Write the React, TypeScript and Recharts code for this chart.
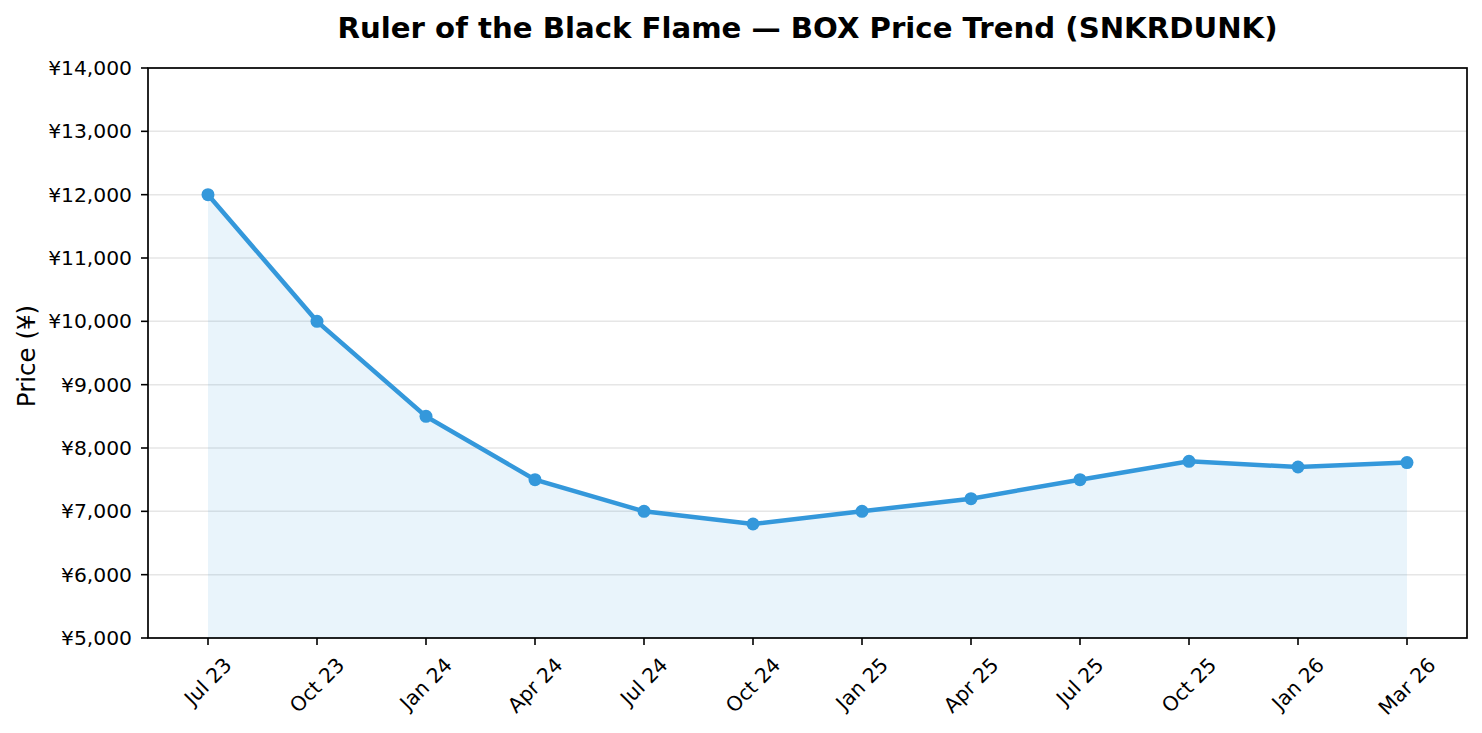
import React from "react"
import { Area, CartesianGrid, ComposedChart, Line, XAxis, YAxis } from "recharts"

const months = ["Jul 23", "Oct 23", "Jan 24", "Apr 24", "Jul 24", "Oct 24", "Jan 25", "Apr 25", "Jul 25", "Oct 25", "Jan 26", "Mar 26"]
const prices = [12000, 10000, 8500, 7500, 7000, 6800, 7000, 7200, 7500, 7790, 7700, 7770]
const yTicks = [5000, 6000, 7000, 8000, 9000, 10000, 11000, 12000, 13000, 14000]

const W = 1482
const H = 733
const LEFT = 148
const RIGHT = 1467
const TOP = 68
const BOTTOM = 638
const FONT = "DejaVu Sans, sans-serif"
const BLUE = "#3498db"

const data = months.map((m, i) => ({ month: m, price: prices[i] }))

let ctx: CanvasRenderingContext2D | null = null
function textWidth(s: string, size: number) {
  if (!ctx) ctx = document.createElement("canvas").getContext("2d")
  if (!ctx) return s.length * size * 0.6
  ctx.font = `${size}px DejaVu Sans`
  return ctx.measureText(s).width
}

const fmtYen = (v: number) => `¥${v.toLocaleString("en-US")}`

// matplotlib-style rotated label: box centred on the tick, top edge under it
function XTick(props: any) {
  const { x, payload } = props
  const size = 20.3
  const w = textWidth(payload.value, size)
  const h = size * 1.164
  const boxH = (w + h) * Math.SQRT1_2
  const cy = BOTTOM + 15 + boxH / 2
  return (
    <text
      x={x}
      y={cy}
      textAnchor="middle"
      dominantBaseline="central"
      transform={`rotate(-45, ${x}, ${cy})`}
      fontSize={size}
      fontFamily={FONT}
      fill="#000"
    >
      {payload.value}
    </text>
  )
}

function YTick(props: any) {
  const { y, payload } = props
  return (
    <text x={LEFT - 16} y={y} textAnchor="end" dominantBaseline="central" fontSize={20.3} fontFamily={FONT} fill="#000">
      {fmtYen(payload.value)}
    </text>
  )
}

export default function App() {
  return (
    <div style={{ position: "absolute", left: 0, top: 0, width: W, height: H, background: "#fff" }}>
      <ComposedChart
        width={W}
        height={H}
        data={data}
        margin={{ top: TOP, right: W - RIGHT, bottom: 0, left: 0 }}
      >
        <CartesianGrid vertical={false} stroke="#e6e6e6" strokeWidth={1.5} />
        <XAxis
          dataKey="month"
          height={H - BOTTOM}
          padding={{ left: 60, right: 60 }}
          axisLine={false}
          tickLine={{ stroke: "#000", strokeWidth: 1.6 }}
          tickSize={7}
          tick={<XTick />}
          interval={0}
        />
        <YAxis
          width={LEFT}
          domain={[5000, 14000]}
          ticks={yTicks}
          axisLine={false}
          tickLine={{ stroke: "#000", strokeWidth: 1.6 }}
          tickSize={7}
          tick={<YTick />}
          allowDataOverflow
        />
        <Area
          type="linear"
          dataKey="price"
          stroke="none"
          fill={BLUE}
          fillOpacity={0.11}
          isAnimationActive={false}
        />
        <Line
          type="linear"
          dataKey="price"
          stroke={BLUE}
          strokeWidth={4.5}
          dot={{ r: 6.5, fill: BLUE, stroke: BLUE, strokeWidth: 0 }}
          activeDot={false}
          isAnimationActive={false}
        />
      </ComposedChart>
      <svg width={W} height={H} style={{ position: "absolute", left: 0, top: 0, pointerEvents: "none" }}>
        <rect x={LEFT} y={TOP} width={RIGHT - LEFT} height={BOTTOM - TOP} fill="none" stroke="#000" strokeWidth={1.7} />
        <text x={(LEFT + RIGHT) / 2} y={38} textAnchor="middle" fontSize={29.2} fontWeight="bold" fontFamily={FONT} fill="#000">
          Ruler of the Black Flame — BOX Price Trend (SNKRDUNK)
        </text>
        <text x={35} y={356} textAnchor="middle" transform="rotate(-90, 35, 356)" fontSize={24.5} fontFamily={FONT} fill="#000">
          Price (¥)
        </text>
      </svg>
    </div>
  )
}
